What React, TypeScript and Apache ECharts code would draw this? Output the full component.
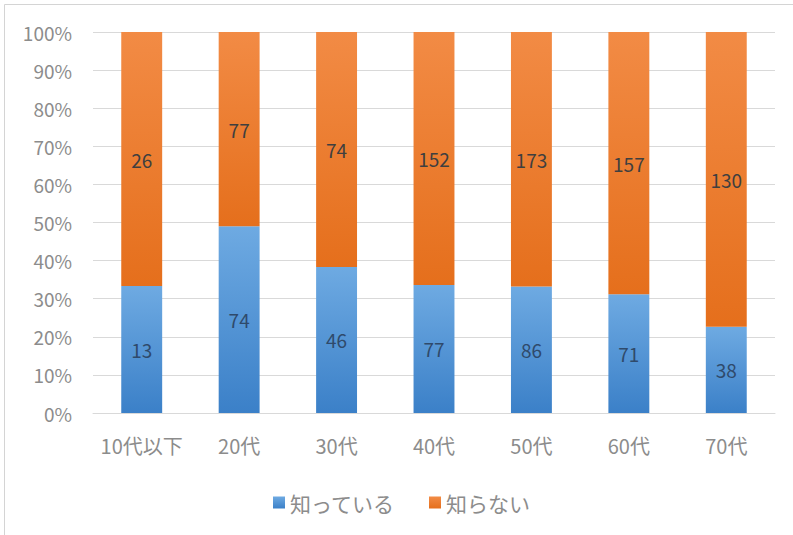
import React, { useEffect, useRef } from "react";
import * as echarts from "echarts";

const categories = ["10代以下", "20代", "30代", "40代", "50代", "60代", "70代"];
const knowName = "知っている";
const notKnowName = "知らない";
const knowCounts = [13, 74, 46, 77, 86, 71, 38];
const notKnowCounts = [26, 77, 74, 152, 173, 157, 130];

const FONT = "'Noto Sans CJK JP', 'Noto Sans', sans-serif";

export default function App() {
  const ref = useRef<HTMLDivElement>(null);
  useEffect(() => {
    if (!ref.current) return;
    const chart = echarts.init(ref.current, undefined, { renderer: "svg" });
    const totals = knowCounts.map((v, i) => v + notKnowCounts[i]);
    const knowPct = knowCounts.map((v, i) => (v / totals[i]) * 100);
    const notPct = notKnowCounts.map((v, i) => (v / totals[i]) * 100);
    const blue = new echarts.graphic.LinearGradient(0, 0, 0, 1, [
      { offset: 0, color: "#6eaae2" },
      { offset: 1, color: "#3b80c8" },
    ]);
    const orange = new echarts.graphic.LinearGradient(0, 0, 0, 1, [
      { offset: 0, color: "#f28b45" },
      { offset: 1, color: "#e56f1c" },
    ]);
    chart.setOption({
      animation: false,
      backgroundColor: "#ffffff",
      graphic: [
        {
          type: "rect",
          shape: { x: 4.5, y: 4.5, width: 900, height: 900 },
          style: { fill: "none", stroke: "#d4d4d4", lineWidth: 1 },
          silent: true,
        },
      ],
      grid: { left: 93, right: 18, top: 32, bottom: 122 },
      legend: {
        left: 268,
        top: 487,
        itemWidth: 12,
        itemHeight: 12,
        itemGap: 34,
        icon: "rect",
        textStyle: { fontFamily: FONT, fontSize: 21, color: "#8c8c8c" },
        data: [knowName, notKnowName],
      },
      xAxis: {
        type: "category",
        data: categories,
        axisLine: { lineStyle: { color: "#d9d9d9" } },
        axisTick: { show: false },
        axisLabel: {
          interval: 0,
          hideOverlap: false,
          fontFamily: FONT,
          fontSize: 20,
          color: "#8c8c8c",
          margin: 22,
        },
      },
      yAxis: {
        type: "value",
        min: 0,
        max: 100,
        interval: 10,
        axisLine: { show: false },
        axisTick: { show: false },
        splitLine: { lineStyle: { color: "#d9d9d9", width: 1 } },
        axisLabel: {
          formatter: "{value}%",
          fontFamily: FONT,
          fontSize: 19,
          color: "#8c8c8c",
          margin: 21,
        },
      },
      series: [
        {
          name: knowName,
          type: "bar",
          stack: "total",
          barWidth: "42%",
          data: knowPct,
          itemStyle: { color: blue },
          label: {
            show: true,
            position: "inside",
            fontFamily: FONT,
            fontSize: 19,
            color: "#2f4a6b",
            formatter: (p: any) => String(knowCounts[p.dataIndex]),
          },
        },
        {
          name: notKnowName,
          type: "bar",
          stack: "total",
          barWidth: "42%",
          data: notPct,
          itemStyle: { color: orange },
          label: {
            show: true,
            position: "inside",
            fontFamily: FONT,
            fontSize: 19,
            color: "#3f3f3f",
            formatter: (p: any) => String(notKnowCounts[p.dataIndex]),
          },
        },
      ],
    });
    return () => chart.dispose();
  }, []);
  return (
    <div
      ref={ref}
      style={{ position: "fixed", left: 0, top: 0, width: 793, height: 535, background: "#fff" }}
    />
  );
}
